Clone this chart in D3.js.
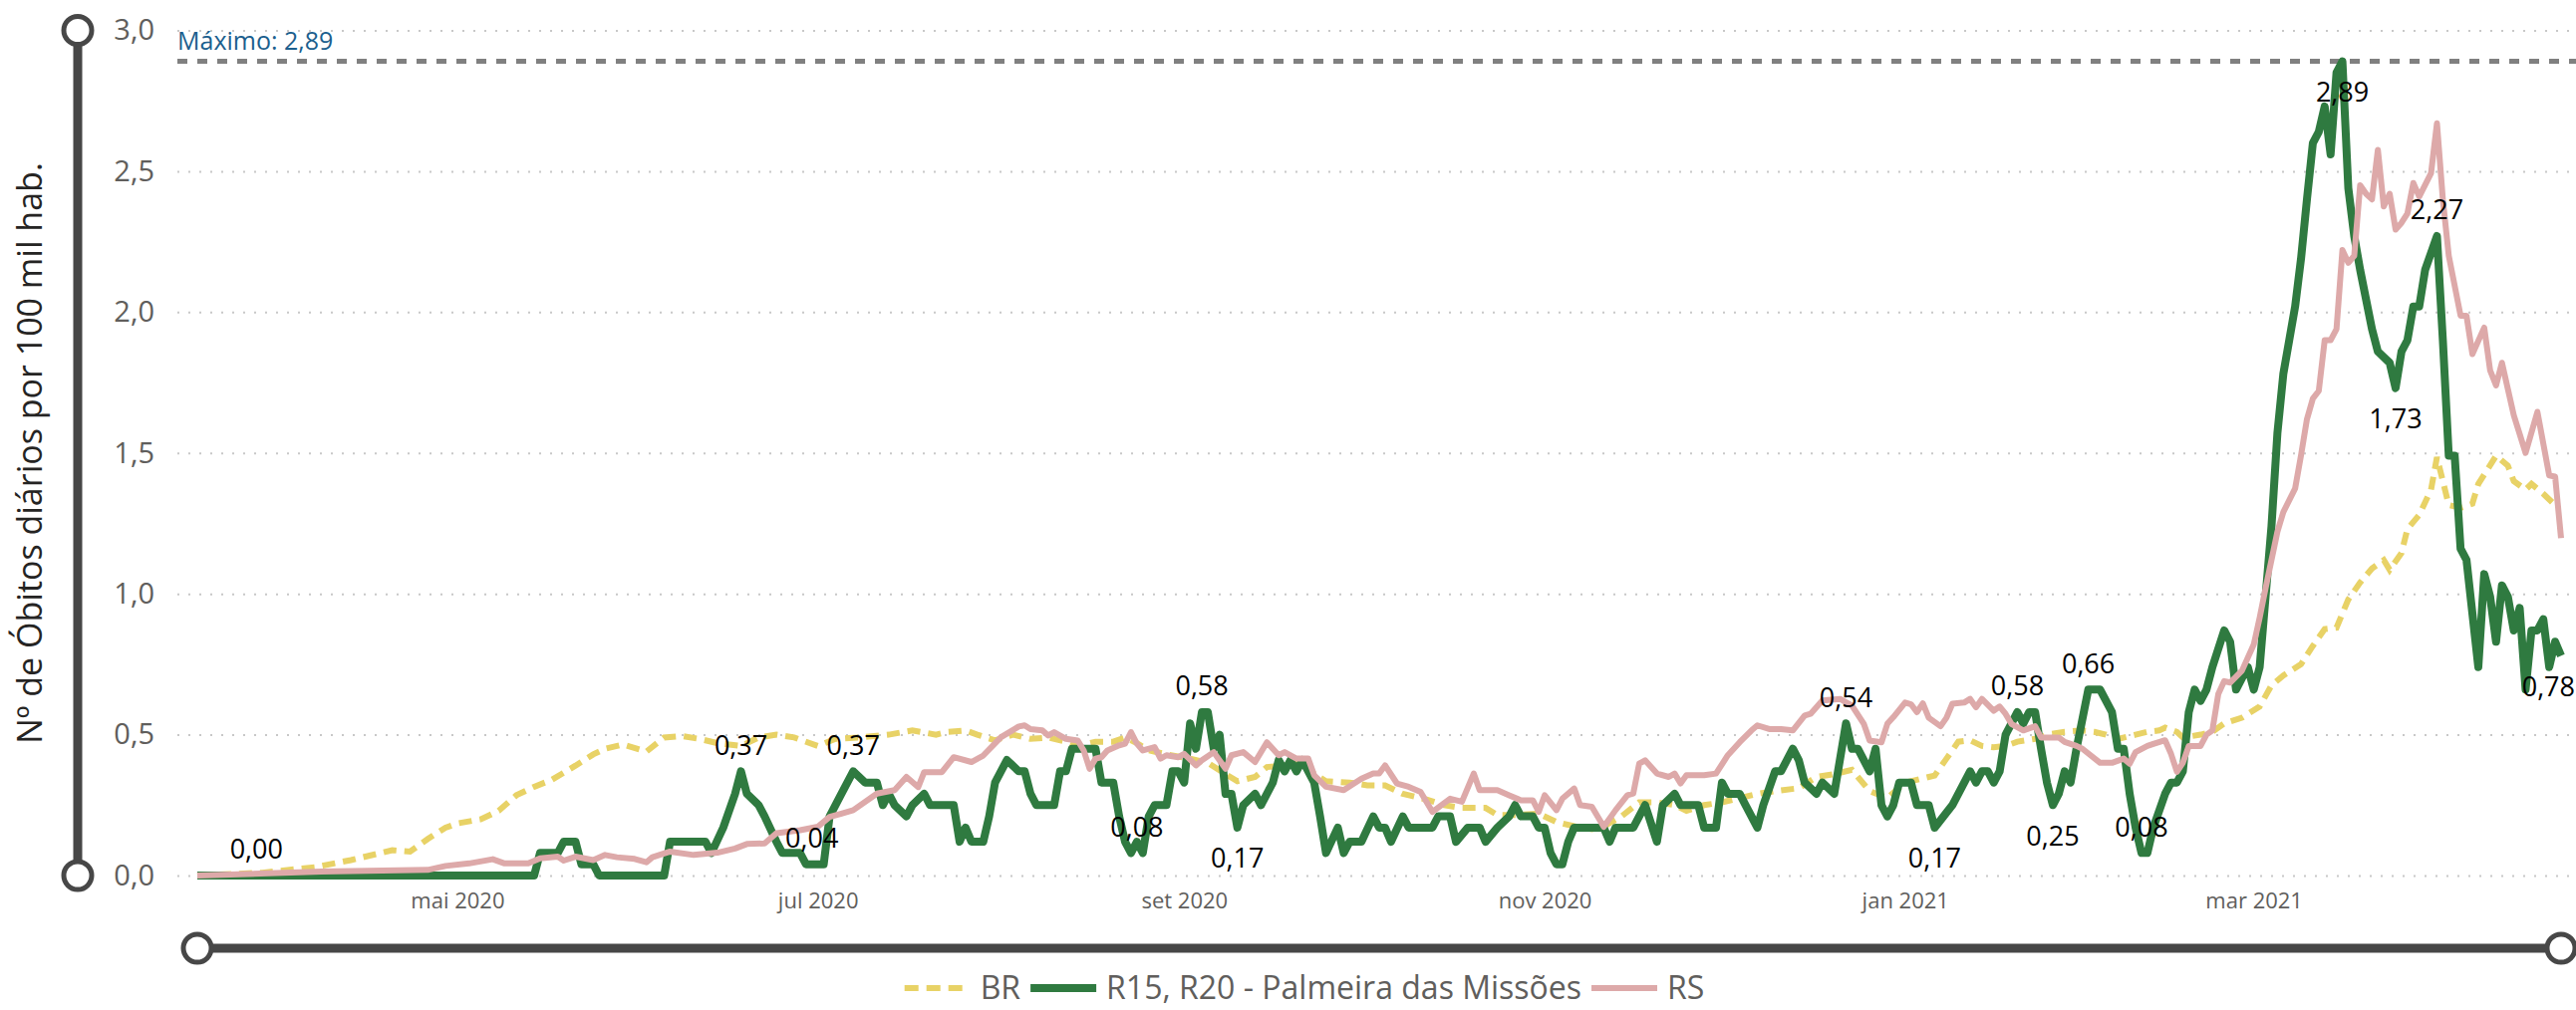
<!DOCTYPE html>
<html lang="pt">
<head>
<meta charset="UTF-8">
<title>Óbitos diários por 100 mil hab.</title>
<script src="https://d3js.org/d3.v7.min.js"></script>
<style>
  html, body { margin: 0; padding: 0; background: #fff; }
  svg { display: block; }
  text { font-family: "Open Sans", "Noto Sans", sans-serif; }
</style>
</head>
<body>
<svg width="2585" height="1014"></svg>
<script>
// dia 0 = primeiro dia da série
const firstDay = "2020-03-18";
const lastDay = "2021-04-22";

const yTicks = [0, 0.5, 1, 1.5, 2, 2.5, 3];
const xTicks = ["2020-05-01", "2020-07-01", "2020-09-01", "2020-11-01", "2021-01-01", "2021-03-01"];
const xTickLabels = ["mai 2020", "jul 2020", "set 2020", "nov 2020", "jan 2021", "mar 2021"];

const seriesNames = ["BR", "R15, R20 - Palmeira das Missões", "RS"];
const maxValue = 2.89;

// [dia, valor]
const br = [[0,0],[11,0.01],[20,0.03],[26,0.055],[33,0.09],[36,0.085],[39,0.13],[42,0.17],[44,0.185],[48,0.2],[51,0.23],[54,0.285],[57,0.315],[60,0.34],[64,0.39],[67,0.43],[69,0.45],[72,0.465],[76,0.44],[79,0.49],[82,0.495],[85,0.485],[88,0.47],[92,0.46],[95,0.49],[98,0.5],[101,0.49],[105,0.46],[108,0.485],[112,0.49],[117,0.5],[121,0.515],[125,0.5],[127,0.51],[130,0.515],[132,0.5],[135,0.48],[138,0.5],[141,0.485],[144,0.49],[147,0.475],[149,0.46],[152,0.475],[155,0.475],[157,0.49],[159,0.47],[161,0.445],[164,0.43],[168,0.415],[171,0.4],[174,0.36],[176,0.335],[179,0.35],[181,0.385],[184,0.39],[187,0.4],[189,0.36],[191,0.335],[195,0.33],[198,0.32],[201,0.32],[204,0.29],[208,0.27],[211,0.25],[214,0.24],[218,0.24],[220,0.215],[223,0.215],[227,0.22],[230,0.19],[233,0.175],[236,0.165],[238,0.175],[241,0.21],[244,0.26],[247,0.26],[250,0.25],[252,0.23],[255,0.25],[258,0.26],[261,0.275],[264,0.29],[267,0.3],[271,0.31],[274,0.35],[277,0.36],[280,0.375],[281,0.35],[283,0.3],[286,0.275],[289,0.33],[291,0.34],[294,0.355],[296,0.415],[298,0.475],[300,0.48],[302,0.46],[304,0.455],[306,0.46],[308,0.475],[311,0.485],[313,0.5],[316,0.51],[319,0.515],[321,0.51],[323,0.5],[325,0.485],[328,0.5],[330,0.51],[332,0.515],[333,0.525],[335,0.51],[336,0.49],[339,0.5],[341,0.51],[343,0.54],[346,0.56],[349,0.6],[351,0.675],[353,0.71],[356,0.75],[358,0.815],[360,0.875],[362,0.88],[364,0.98],[366,1.04],[368,1.09],[370,1.12],[371,1.085],[373,1.145],[374,1.23],[376,1.28],[378,1.37],[379,1.485],[380,1.4],[381,1.315],[383,1.305],[385,1.32],[386,1.39],[389,1.49],[391,1.455],[392,1.4],[394,1.37],[395,1.39],[397,1.355],[399,1.315]];

const palmeira = [[0,0],[57,0],[58,0.08],[61,0.08],[62,0.12],[64,0.12],[65,0.04],[67,0.04],[68,0],[79,0],[80,0.12],[86,0.12],[87,0.08],[89,0.17],[91,0.29],[92,0.37],[93,0.29],[95,0.25],[96,0.21],[98,0.12],[99,0.08],[102,0.08],[103,0.04],[106,0.04],[107,0.21],[109,0.29],[111,0.37],[113,0.33],[115,0.33],[116,0.25],[117,0.29],[118,0.25],[120,0.21],[121,0.25],[123,0.29],[124,0.25],[128,0.25],[129,0.12],[130,0.17],[131,0.12],[133,0.12],[134,0.21],[135,0.33],[137,0.41],[139,0.37],[140,0.37],[141,0.29],[142,0.25],[145,0.25],[146,0.37],[147,0.37],[148,0.45],[152,0.45],[153,0.33],[155,0.33],[156,0.21],[157,0.12],[158,0.08],[159,0.12],[160,0.08],[161,0.21],[162,0.25],[164,0.25],[165,0.37],[166,0.37],[167,0.33],[168,0.54],[169,0.45],[170,0.58],[171,0.58],[172,0.45],[173,0.5],[174,0.29],[175,0.29],[176,0.17],[177,0.25],[179,0.29],[180,0.25],[182,0.33],[183,0.41],[184,0.37],[185,0.41],[186,0.37],[187,0.41],[189,0.33],[190,0.21],[191,0.08],[193,0.17],[194,0.08],[195,0.12],[197,0.12],[199,0.21],[200,0.17],[201,0.17],[202,0.12],[204,0.21],[205,0.17],[209,0.17],[210,0.21],[212,0.21],[213,0.12],[215,0.17],[217,0.17],[218,0.12],[220,0.17],[222,0.21],[223,0.25],[224,0.21],[226,0.21],[227,0.17],[228,0.17],[229,0.08],[230,0.04],[231,0.04],[232,0.12],[233,0.17],[238,0.17],[239,0.12],[240,0.17],[243,0.17],[245,0.25],[247,0.12],[248,0.25],[250,0.29],[251,0.25],[254,0.25],[255,0.17],[257,0.17],[258,0.33],[259,0.29],[261,0.29],[262,0.25],[264,0.17],[265,0.25],[267,0.37],[268,0.37],[270,0.45],[271,0.41],[272,0.33],[274,0.29],[275,0.33],[277,0.29],[279,0.54],[280,0.45],[281,0.45],[283,0.37],[284,0.45],[285,0.25],[286,0.21],[287,0.25],[288,0.33],[290,0.33],[291,0.25],[293,0.25],[294,0.17],[297,0.25],[300,0.37],[301,0.33],[302,0.37],[303,0.37],[304,0.33],[305,0.37],[306,0.5],[308,0.58],[309,0.54],[310,0.58],[311,0.58],[312,0.45],[313,0.33],[314,0.25],[315,0.29],[316,0.37],[317,0.33],[318,0.45],[320,0.66],[322,0.66],[323,0.62],[324,0.58],[325,0.45],[326,0.45],[327,0.29],[328,0.17],[329,0.08],[330,0.08],[331,0.17],[333,0.29],[334,0.33],[335,0.33],[336,0.37],[337,0.58],[338,0.66],[339,0.62],[340,0.66],[341,0.74],[343,0.87],[344,0.83],[345,0.66],[346,0.7],[347,0.74],[348,0.66],[349,0.74],[350,0.99],[351,1.24],[352,1.57],[353,1.78],[354,1.9],[355,2.02],[356,2.19],[357,2.4],[358,2.6],[359,2.64],[360,2.73],[361,2.56],[362,2.85],[363,2.89],[364,2.44],[365,2.27],[366,2.15],[368,1.94],[369,1.86],[371,1.82],[372,1.73],[373,1.86],[374,1.9],[375,2.02],[376,2.02],[377,2.15],[379,2.27],[380,1.9],[381,1.49],[382,1.49],[383,1.16],[384,1.12],[386,0.74],[387,1.07],[388,0.99],[389,0.83],[390,1.03],[391,0.99],[392,0.87],[393,0.95],[394,0.66],[395,0.87],[396,0.87],[397,0.91],[398,0.74],[399,0.83],[400,0.78]];

const rs = [[0,0],[21,0.014],[39,0.02],[42,0.034],[46,0.043],[50,0.058],[52,0.043],[56,0.043],[58,0.061],[61,0.067],[62,0.053],[64,0.067],[67,0.055],[69,0.073],[71,0.065],[74,0.059],[76,0.047],[77,0.065],[80,0.085],[84,0.073],[88,0.081],[91,0.096],[93,0.112],[96,0.114],[98,0.15],[102,0.161],[105,0.173],[107,0.208],[109,0.22],[111,0.232],[115,0.291],[118,0.303],[120,0.35],[122,0.314],[123,0.367],[126,0.367],[128,0.42],[131,0.403],[133,0.426],[136,0.491],[139,0.529],[140,0.533],[141,0.52],[143,0.515],[144,0.497],[145,0.509],[147,0.485],[149,0.479],[150,0.444],[151,0.379],[152,0.415],[153,0.42],[154,0.444],[156,0.462],[157,0.468],[158,0.509],[159,0.468],[160,0.444],[162,0.456],[163,0.415],[164,0.427],[166,0.42],[167,0.432],[169,0.391],[170,0.409],[172,0.438],[174,0.379],[175,0.427],[177,0.438],[179,0.403],[181,0.473],[183,0.427],[184,0.438],[186,0.415],[188,0.415],[189,0.356],[191,0.315],[194,0.303],[197,0.344],[199,0.362],[200,0.362],[201,0.391],[203,0.327],[205,0.315],[207,0.297],[209,0.226],[212,0.273],[214,0.262],[216,0.362],[217,0.303],[220,0.303],[222,0.285],[224,0.267],[226,0.267],[227,0.226],[228,0.285],[230,0.232],[231,0.273],[233,0.309],[234,0.25],[236,0.244],[238,0.173],[240,0.232],[242,0.285],[243,0.291],[244,0.397],[245,0.409],[247,0.362],[249,0.35],[250,0.362],[251,0.327],[252,0.356],[255,0.356],[257,0.362],[259,0.427],[261,0.473],[263,0.515],[264,0.533],[266,0.52],[268,0.52],[270,0.515],[272,0.568],[273,0.574],[275,0.621],[278,0.627],[279,0.615],[280,0.603],[282,0.539],[283,0.479],[285,0.473],[286,0.539],[287,0.562],[289,0.614],[290,0.608],[291,0.58],[292,0.611],[293,0.56],[295,0.53],[296,0.56],[297,0.61],[299,0.614],[300,0.627],[301,0.597],[302,0.627],[304,0.585],[305,0.6],[306,0.574],[307,0.538],[309,0.515],[311,0.53],[312,0.49],[315,0.49],[316,0.474],[318,0.46],[319,0.45],[322,0.4],[324,0.4],[326,0.415],[327,0.397],[328,0.438],[330,0.46],[331,0.467],[333,0.48],[334,0.432],[335,0.368],[336,0.4],[337,0.46],[339,0.46],[340,0.5],[341,0.515],[342,0.644],[343,0.69],[344,0.685],[346,0.727],[348,0.82],[349,0.915],[350,1.02],[352,1.22],[353,1.29],[355,1.374],[356,1.492],[357,1.62],[358,1.693],[359,1.72],[360,1.9],[361,1.9],[362,1.94],[363,2.22],[364,2.175],[365,2.2],[366,2.45],[367,2.42],[368,2.4],[369,2.576],[370,2.375],[371,2.42],[372,2.293],[373,2.317],[374,2.35],[375,2.458],[376,2.41],[378,2.493],[379,2.67],[380,2.4],[381,2.2],[383,1.987],[384,1.987],[385,1.851],[387,1.945],[388,1.793],[389,1.74],[390,1.82],[392,1.634],[394,1.5],[396,1.646],[398,1.42],[399,1.416],[400,1.198]];

// rótulos de dados (série Palmeira das Missões)
const labelDays = [10, 92, 104, 111, 159, 170, 176, 279, 294, 308, 314, 320, 329, 363, 372, 379, 400];
const labelValues = [0, 0.37, 0.04, 0.37, 0.08, 0.58, 0.17, 0.54, 0.17, 0.58, 0.25, 0.66, 0.08, 2.89, 1.73, 2.27, 0.78];
const labelSides = ["up","up","up","up","up","up","down","up","down","up","down","up","up","down","down","up","down"];

const colors = { br: "#e8d266", palmeira: "#2f7a40", rs: "#dda9a9" };

const W = 2585;
const svg = d3.select("svg");
const parse = d3.utcParse("%Y-%m-%d");
const start = parse(firstDay);
const toDate = d => d3.utcDay.offset(start, d);

const x = d3.scaleUtc().domain([start, parse(lastDay)]).range([198, 2570]);
const y = d3.scaleLinear().domain([0, 3]).range([879, 30.5]);

const pt = d3.formatLocale({ decimal: ",", thousands: ".", grouping: [3], currency: ["R$", ""] });
const f1 = pt.format(".1f");
const f2 = pt.format(".2f");

// grade + rótulos do eixo y
const gridLeft = 178;
const yAxis = svg.append("g")
    .attr("transform", `translate(${gridLeft},0)`)
    .call(d3.axisLeft(y).tickValues(yTicks).tickFormat(f1)
        .tickSizeInner(-(W - gridLeft)).tickSizeOuter(0).tickPadding(23));
yAxis.select(".domain").remove();
yAxis.selectAll(".tick line")
    .attr("stroke", "#c8c8c8")
    .attr("stroke-width", 2)
    .attr("stroke-dasharray", "2,9");
yAxis.selectAll(".tick text")
    .attr("fill", "#605e5c")
    .style("font-size", "29px");

// eixo x
const xAxis = svg.append("g")
    .attr("transform", "translate(0,879)")
    .call(d3.axisBottom(x).tickValues(xTicks.map(parse))
        .tickFormat((d, i) => xTickLabels[i]).tickSize(0).tickPadding(17));
xAxis.select(".domain").remove();
xAxis.selectAll(".tick text")
    .attr("fill", "#605e5c")
    .style("font-size", "22px");

// linha de máximo
svg.append("line")
    .attr("x1", gridLeft).attr("x2", W)
    .attr("y1", y(maxValue)).attr("y2", y(maxValue))
    .attr("stroke", "#808080")
    .attr("stroke-width", 5)
    .attr("stroke-dasharray", "10,10");
svg.append("text")
    .attr("x", gridLeft).attr("y", 50)
    .attr("fill", "#1c5f8e")
    .style("font-size", "25px")
    .text("Máximo: " + f2(maxValue));

// título do eixo y
svg.append("text")
    .attr("transform", "translate(42,455) rotate(-90)")
    .attr("text-anchor", "middle")
    .attr("fill", "#252423")
    .style("font-size", "34px")
    .text("Nº de Óbitos diários por 100 mil hab.");

// séries
const line = d3.line()
    .x(d => x(toDate(d[0])))
    .y(d => y(d[1]));

svg.append("path").datum(br)
    .attr("d", line)
    .attr("fill", "none")
    .attr("stroke", colors.br)
    .attr("stroke-width", 6)
    .attr("stroke-dasharray", "13,8");

svg.append("path").datum(palmeira)
    .attr("d", line)
    .attr("fill", "none")
    .attr("stroke", colors.palmeira)
    .attr("stroke-width", 8)
    .attr("stroke-linejoin", "round");

svg.append("path").datum(rs)
    .attr("d", line)
    .attr("fill", "none")
    .attr("stroke", colors.rs)
    .attr("stroke-width", 6)
    .attr("stroke-linejoin", "round");

// rótulos de dados
labelDays.forEach((d, i) => {
    const cy = y(labelValues[i]) + (labelSides[i] === "up" ? -26 : 31);
    const t = svg.append("text")
        .attr("x", x(toDate(d)))
        .attr("y", cy)
        .attr("dy", "0.35em")
        .attr("text-anchor", "middle")
        .attr("fill", "#000")
        .style("font-size", "27px")
        .text(f2(labelValues[i]));
    const bb = t.node().getBBox();
    if (bb.x + bb.width > W - 1) t.attr("x", W - 1 - bb.width / 2);
});

// sliders dos eixos
const sliderColor = "#474747";
svg.append("line")
    .attr("x1", 78).attr("x2", 78).attr("y1", y(3)).attr("y2", y(0))
    .attr("stroke", sliderColor).attr("stroke-width", 9);
[y(3), y(0)].forEach(cy => {
    svg.append("circle").attr("cx", 78).attr("cy", cy).attr("r", 14)
        .attr("fill", "#fff").attr("stroke", sliderColor).attr("stroke-width", 5);
});
svg.append("line")
    .attr("x1", x.range()[0]).attr("x2", x.range()[1]).attr("y1", 952).attr("y2", 952)
    .attr("stroke", sliderColor).attr("stroke-width", 9);
x.range().forEach(cx => {
    svg.append("circle").attr("cx", cx).attr("cy", 952).attr("r", 14)
        .attr("fill", "#fff").attr("stroke", sliderColor).attr("stroke-width", 5);
});

// legenda
const legend = svg.append("g");
const legendStyle = [
    { color: colors.br, width: 6, dash: "14,8" },
    { color: colors.palmeira, width: 8, dash: null },
    { color: colors.rs, width: 6, dash: null }
];
let lx = 0;
seriesNames.forEach((name, i) => {
    const s = legendStyle[i];
    legend.append("line")
        .attr("x1", lx).attr("x2", lx + 66).attr("y1", 0).attr("y2", 0)
        .attr("stroke", s.color).attr("stroke-width", s.width)
        .attr("stroke-dasharray", s.dash);
    const t = legend.append("text")
        .attr("x", lx + 76).attr("y", 0).attr("dy", "0.35em")
        .attr("fill", "#605e5c")
        .style("font-size", "32px")
        .text(name);
    lx += 76 + t.node().getComputedTextLength() + 10;
});
const legendWidth = lx - 10;
legend.attr("transform", `translate(${1309 - legendWidth / 2},992)`);
</script>
</body>
</html>
